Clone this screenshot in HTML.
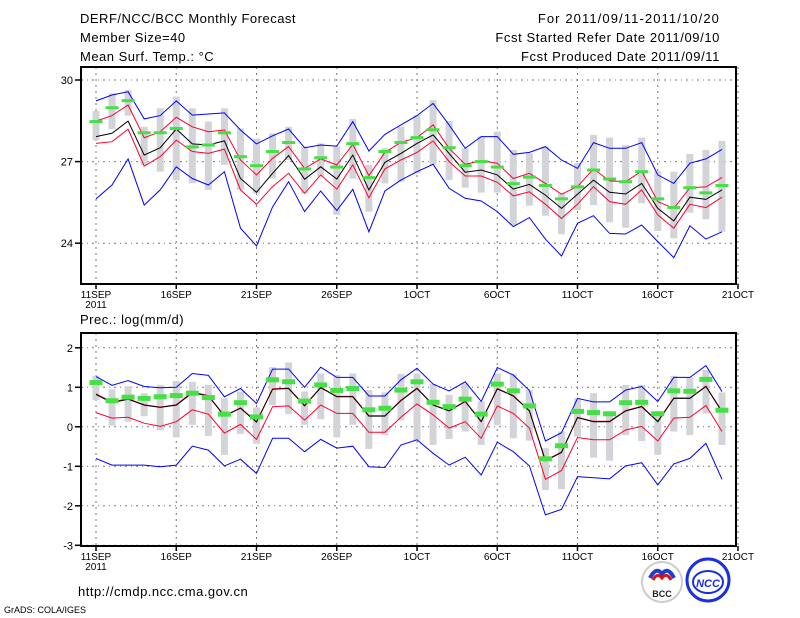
<!DOCTYPE html>
<html><head><meta charset="utf-8"><style>
html,body{margin:0;padding:0;background:#fff;width:800px;height:618px;overflow:hidden}
svg{display:block;font-family:"Liberation Sans",sans-serif}
</style></head><body>
<svg id="c" width="800" height="618" viewBox="0 0 800 618">
<g font-size="13" fill="#000">
<text x="80" y="23" letter-spacing="0.5">DERF/NCC/BCC Monthly Forecast</text>
<text x="80" y="42" letter-spacing="0.5">Member Size=40</text>
<text x="80" y="61" letter-spacing="0.5">Mean Surf. Temp.: °C</text>
<text x="720" y="23" text-anchor="end" letter-spacing="1.1">For 2011/09/11-2011/10/20</text>
<text x="720" y="42" text-anchor="end" letter-spacing="0.6">Fcst Started Refer Date 2011/09/10</text>
<text x="720" y="61" text-anchor="end" letter-spacing="0.6">Fcst Produced Date 2011/09/11</text>
<text x="80" y="324" letter-spacing="0.5">Prec.: log(mm/d)</text>
<text x="78" y="596" letter-spacing="0.5">http://cmdp.ncc.cma.gov.cn</text>
<text x="4" y="613" font-size="9">GrADS: COLA/IGES</text>
</g>
<g>
<circle cx="662" cy="582" r="20" fill="#fff" stroke="#ccc" stroke-width="2"/>
<path d="M650 578 q6 -12 12 -4 q6 -8 12 4" fill="none" stroke="#1a3fd0" stroke-width="4"/>
<path d="M653 580 q4 -8 9 -2 q5 -6 9 2" fill="none" stroke="#e01010" stroke-width="3"/>
<text x="662" y="597" font-size="9" font-weight="bold" text-anchor="middle" fill="#222">BCC</text>
</g>
<g>
<circle cx="708" cy="580" r="21" fill="none" stroke="#1a2fe0" stroke-width="3"/>
<ellipse cx="708" cy="582" rx="15" ry="11" fill="none" stroke="#1a2fe0" stroke-width="2"/>
<text x="708" y="587" font-size="11" font-weight="bold" font-style="italic" text-anchor="middle" fill="#1a2fe0">NCC</text>
</g>
<g id="p1"></g><g id="p2"></g>
</svg>
<script>
// Temperature panel data
const days = ['11SEP','16SEP','21SEP','26SEP','1OCT','6OCT','11OCT','16OCT','21OCT'];
const tTicks = [24,27,30];
const tMax = [29.23,29.45,29.57,28.57,28.69,29.23,28.71,28.75,28.79,28.16,27.65,27.95,28.20,27.51,27.61,27.57,28.47,27.39,28.0,28.35,28.69,29.14,28.35,27.49,27.92,27.92,27.27,27.34,27.55,27.06,26.75,27.70,27.49,27.49,27.70,26.51,26.20,26.94,27.10,27.45];
const tUp = [28.49,28.69,29.08,27.88,28.10,28.63,28.28,28.10,28.16,27.06,26.51,27.12,27.55,26.75,27.10,26.88,27.63,26.48,27.34,27.71,27.88,28.35,27.49,26.90,27.03,26.94,26.38,26.57,26.20,25.80,26.08,26.73,26.29,26.26,26.65,25.53,25.28,26.04,26.07,26.42];
const tMean = [27.92,28.04,28.49,27.24,27.51,28.20,27.65,27.61,27.76,26.38,25.87,26.57,27.22,26.35,26.81,26.36,27.24,25.96,26.97,27.30,27.67,27.98,27.30,26.61,26.69,26.51,25.99,26.16,25.77,25.28,25.80,26.32,25.87,25.81,26.20,25.28,24.82,25.69,25.61,25.96];
const tLow = [27.67,27.73,28.19,26.84,27.18,27.79,27.37,27.30,27.46,25.96,25.43,26.08,26.57,25.83,26.51,25.99,26.88,25.67,26.73,27.06,27.34,27.76,27.0,26.47,26.47,26.24,25.74,25.89,25.43,24.91,25.43,26.08,25.53,25.43,25.96,25.04,24.55,25.43,25.31,25.69];
const tMin = [25.63,26.14,27.10,25.40,25.96,26.81,26.38,26.14,26.63,24.55,23.90,25.34,26.26,25.16,25.92,25.20,25.98,24.42,25.92,26.32,26.63,26.90,26.02,25.65,25.55,25.16,24.61,24.94,24.15,23.53,24.73,25.01,24.36,24.34,24.67,24.06,23.47,24.64,24.15,24.42];
const tObs = [28.47,28.98,29.24,28.06,28.06,28.22,27.54,27.61,28.06,27.18,26.85,27.37,27.70,26.73,27.14,26.80,27.66,26.41,27.37,27.70,27.88,28.17,27.51,26.85,27.0,26.80,26.19,26.43,26.12,25.63,26.07,26.69,26.36,26.26,26.63,25.63,25.31,26.04,25.85,26.12];
const tBarHi = [28.86,29.51,29.63,28.28,28.96,29.39,28.96,28.47,28.96,28.22,27.85,28.04,28.28,27.55,27.67,27.55,28.57,26.88,27.49,28.28,28.71,29.26,28.49,27.49,27.92,28.10,27.43,27.30,27.55,25.83,26.94,27.98,27.88,27.61,27.88,26.65,26.63,27.28,27.43,27.76];
const tBarLo = [27.79,28.19,28.69,26.88,26.63,26.32,26.20,25.96,26.88,25.96,25.83,26.38,27.06,25.83,26.45,25.04,26.38,25.16,26.20,26.26,26.57,26.88,26.32,26.04,25.86,25.86,24.67,25.38,25.01,24.33,25.22,25.40,24.77,24.57,25.47,24.45,24.18,25.12,24.88,24.42];
// Precipitation panel data
const pTicks = [-3,-2,-1,0,1,2];
const pMax = [1.27,1.05,1.17,1.02,0.99,1.0,1.35,1.30,0.76,0.97,0.59,1.46,1.46,1.0,1.51,1.25,1.25,0.78,0.78,1.19,1.48,1.08,0.91,1.14,0.64,1.50,1.31,0.92,-0.36,-0.15,0.72,0.63,0.63,0.93,1.02,0.64,1.25,1.25,1.55,0.89];
const pMean = [0.82,0.61,0.70,0.55,0.49,0.55,0.86,0.78,0.27,0.47,0.12,0.95,0.97,0.53,0.99,0.76,0.76,0.27,0.27,0.66,0.97,0.55,0.40,0.64,0.13,0.96,0.78,0.40,-0.86,-0.65,0.23,0.13,0.13,0.40,0.51,0.13,0.72,0.72,1.02,0.38];
const pUp = [0.83,0.63,0.71,0.56,0.50,0.56,0.88,0.79,0.28,0.48,0.13,0.96,0.98,0.54,1.0,0.77,0.77,0.28,0.28,0.67,0.98,0.56,0.41,0.65,0.14,0.97,0.79,0.41,-0.85,-0.64,0.24,0.14,0.14,0.41,0.52,0.14,0.73,0.73,1.03,0.39];
const pLow = [0.36,0.22,0.24,0.09,0.01,0.13,0.43,0.32,-0.16,0.06,-0.32,0.51,0.53,0.17,0.55,0.34,0.34,-0.14,-0.14,0.24,0.58,0.30,-0.03,0.13,-0.29,0.53,0.34,-0.03,-1.33,-1.11,-0.27,-0.33,-0.33,-0.08,0.01,-0.36,0.22,0.24,0.54,-0.12];
const pMin = [-0.80,-0.97,-0.97,-0.97,-1.01,-0.97,-0.49,-0.59,-0.99,-0.82,-1.18,-0.29,-0.29,-0.63,-0.32,-0.54,-0.49,-1.01,-1.03,-0.46,-0.33,-0.67,-0.97,-0.77,-1.22,-0.39,-0.63,-0.99,-2.23,-2.09,-1.26,-1.29,-1.32,-0.99,-0.91,-1.47,-0.94,-0.80,-0.42,-1.33];
const pObs = [1.12,0.66,0.75,0.72,0.76,0.79,0.85,0.74,0.32,0.61,0.25,1.19,1.14,0.65,1.06,0.92,0.97,0.43,0.47,0.93,1.14,0.62,0.51,0.70,0.32,1.08,0.91,0.53,-0.81,-0.48,0.39,0.36,0.33,0.61,0.62,0.33,0.91,0.90,1.20,0.42];
const pBarHi = [1.29,0.95,1.03,0.85,1.06,1.16,1.14,1.06,0.72,0.89,0.49,1.51,1.63,0.89,1.35,1.31,1.35,0.93,0.87,1.34,1.35,1.08,0.81,1.10,0.64,1.35,1.34,0.93,-0.54,-0.12,0.72,0.85,0.38,1.06,1.06,0.38,1.29,1.25,1.44,0.87];
const pBarLo = [0.68,0.03,0.13,0.27,-0.09,-0.27,0.05,-0.23,-0.71,-0.18,-0.43,0.55,0.32,0.05,0.19,-0.27,0.05,-0.56,-0.21,0.16,-0.35,-0.46,-0.31,-0.12,-0.46,0.05,-0.29,-0.35,-1.60,-1.58,-0.25,-0.78,-0.86,-0.21,-0.36,-0.71,-0.12,-0.21,0.34,-0.46];

const NS='http://www.w3.org/2000/svg';
const x = i => 96 + 16.05*i;
function mk(parent, tag, attrs){const e=document.createElementNS(NS,tag);for(const k in attrs)e.setAttribute(k,attrs[k]);parent.appendChild(e);return e;}

function panel(g, cfg){
  const {top,bot,y,ticks,series,barHi,barLo,obs,obsH}=cfg;
  for(let k=0;k<days.length;k++){
    const gl=mk(g,'line',{x1:x(5*k),x2:x(5*k),y1:top,y2:bot,stroke:'#777','stroke-dasharray':'2,4'});
    
    
    const tk=mk(g,'line',{x1:x(5*k),x2:x(5*k),y1:bot,y2:bot+5,stroke:'#000','stroke-width':1.5});
    
    
    const t=mk(g,'text',{x:x(5*k),y:bot+14,'font-size':10,'text-anchor':'middle'});
    t.textContent=days[k];
    
    
  }
  const yr=mk(g,'text',{x:x(0),y:bot+24,'font-size':10,'text-anchor':'middle'});
  yr.textContent='2011';
  
  
  ticks.forEach(v=>{
    const gl=mk(g,'line',{x1:81,x2:736,y1:y(v),y2:y(v),stroke:'#777','stroke-dasharray':'2,4,1,4'});
    
    
    const tk=mk(g,'line',{x1:75,x2:81,y1:y(v),y2:y(v),stroke:'#000','stroke-width':1.5});
    
    
    const t=mk(g,'text',{x:73,y:y(v)+4,'font-size':11,'text-anchor':'end'});
    t.textContent=String(v);
    
    
  });
  for(let i=0;i<barHi.length;i++){
    const r=mk(g,'rect',{x:x(i)-3.5,y:y(barHi[i]),width:7,height:y(barLo[i])-y(barHi[i]),fill:'#d3d4d8'});
    
    
  }
  series.forEach(s=>{
    const pl=mk(g,'polyline',{points:s.d.map((v,i)=>x(i).toFixed(1)+','+y(v).toFixed(1)).join(' '),fill:'none',stroke:s.c,'stroke-width':1});
    
    
  });
  for(let i=0;i<obs.length;i++){
    const r=mk(g,'rect',{x:x(i)-6.5,y:y(obs[i])-obsH/2,width:13,height:obsH,fill:'#44e044'});
    
    
  }
  const fr=mk(g,'rect',{x:81,y:top,width:655,height:bot-top,fill:'none',stroke:'#000','stroke-width':2});
  
  
}
const yT = v => 80 + (30-v)*27.2;
const yP = v => 387.3 + (1-v)*39.5;
panel(document.getElementById('p1'),{top:67,bot:284,y:yT,ticks:tTicks,barHi:tBarHi,barLo:tBarLo,obs:tObs,obsH:3,
  series:[{d:tMax,c:'#0000ff',n:'temp-max-line'},{d:tUp,c:'#ff0030',n:'temp-upper-line'},{d:tLow,c:'#ff0030',n:'temp-lower-line'},{d:tMin,c:'#0000ff',n:'temp-min-line'},{d:tMean,c:'#000',n:'temp-mean-line'}]});
panel(document.getElementById('p2'),{top:333,bot:546,y:yP,ticks:pTicks,barHi:pBarHi,barLo:pBarLo,obs:pObs,obsH:5,
  series:[{d:pMax,c:'#0000ff',n:'prec-max-line'},{d:pLow,c:'#ff0030',n:'prec-lower-line'},{d:pMin,c:'#0000ff',n:'prec-min-line'},{d:pUp,c:'#ff0030',n:'prec-upper-line'},{d:pMean,c:'#000',n:'prec-mean-line'}]});
document.getElementById('p1');
document.getElementById('p1');
document.getElementById('p2');
document.getElementById('p2');
</script>
</body></html>
